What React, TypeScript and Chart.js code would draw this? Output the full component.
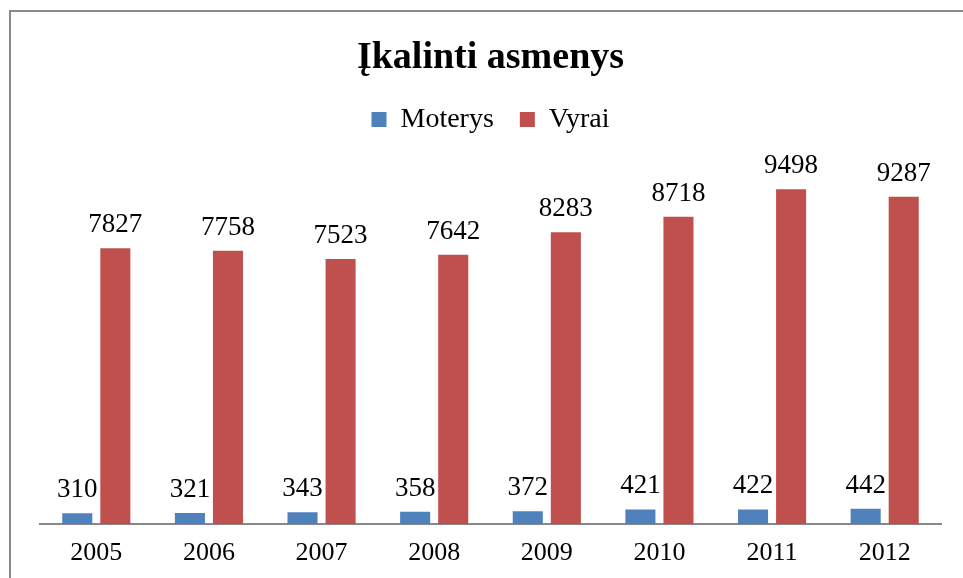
import React, { useEffect, useRef } from "react";
import { Chart, registerables } from "chart.js";

Chart.register(...registerables);

const categories = ["2005", "2006", "2007", "2008", "2009", "2010", "2011", "2012"];
const women = [310, 321, 343, 358, 372, 421, 422, 442];
const men = [7827, 7758, 7523, 7642, 8283, 8718, 9498, 9287];
const seriesNames = ["Moterys", "Vyrai"];
const titleText = "Įkalinti asmenys";

const FONT = "'Liberation Serif', 'Times New Roman', serif";

const labelPlugin = {
  id: "valueLabels",
  afterDatasetsDraw(chart: any) {
    const ctx = chart.ctx;
    ctx.save();
    ctx.font = `27px ${FONT}`;
    ctx.fillStyle = "#000";
    ctx.textAlign = "center";
    ctx.textBaseline = "alphabetic";
    chart.data.datasets.forEach((ds: any, di: number) => {
      const meta = chart.getDatasetMeta(di);
      meta.data.forEach((el: any, i: number) => {
        ctx.fillText(String(ds.data[i]), el.x, el.y - 16);
      });
    });
    ctx.restore();
  },
};

const legendSpacePlugin = {
  id: "legendSpace",
  beforeInit(chart: any) {
    const legend = chart.legend;
    if (!legend) return;
    const origFit = legend.fit;
    legend.fit = function () {
      origFit.call(this);
      this.height += 28;
    };
  },
};

export default function App() {
  const ref = useRef<HTMLCanvasElement>(null);
  useEffect(() => {
    const chart = new Chart(ref.current!, {
      type: "bar",
      data: {
        labels: categories,
        datasets: [
          { label: seriesNames[0], data: women, backgroundColor: "#4F81BD" },
          { label: seriesNames[1], data: men, backgroundColor: "#C0504D" },
        ],
      },
      options: {
        animation: false,
        responsive: false,
        events: [],
        layout: { padding: { left: 40, right: 22, top: 35, bottom: 4.5 } },
        datasets: {
          bar: { categoryPercentage: 0.676, barPercentage: 0.79 },
        },
        plugins: {
          title: {
            display: true,
            text: titleText,
            color: "#000",
            font: { family: FONT, size: 38, weight: "bold" },
            padding: { top: 0, bottom: -1 },
          },
          legend: {
            display: true,
            labels: {
              color: "#000",
              font: { family: FONT, size: 28 },
              boxWidth: 15,
              boxHeight: 15,
              padding: 26,
            },
          },
          tooltip: { enabled: false },
        },
        scales: {
          x: {
            grid: { display: false },
            border: { display: true, color: "#888", width: 2 },
            ticks: { color: "#000", font: { family: FONT, size: 26 }, padding: 5 },
          },
          y: {
            display: false,
            min: 0,
            max: 10000,
          },
        },
      },
      plugins: [labelPlugin, legendSpacePlugin],
    } as any);
    return () => chart.destroy();
  }, []);
  return (
    <div style={{ position: "fixed", left: 0, top: 0, width: 963, height: 578, background: "#fff" }}>
      <canvas ref={ref} width={963} height={578} style={{ position: "absolute", left: 0, top: 0 }} />
      <div
        style={{
          position: "absolute",
          left: 9,
          top: 10,
          width: 960,
          height: 580,
          borderLeft: "2px solid #8a8a8a",
          borderTop: "2px solid #8a8a8a",
          pointerEvents: "none",
        }}
      />
    </div>
  );
}
